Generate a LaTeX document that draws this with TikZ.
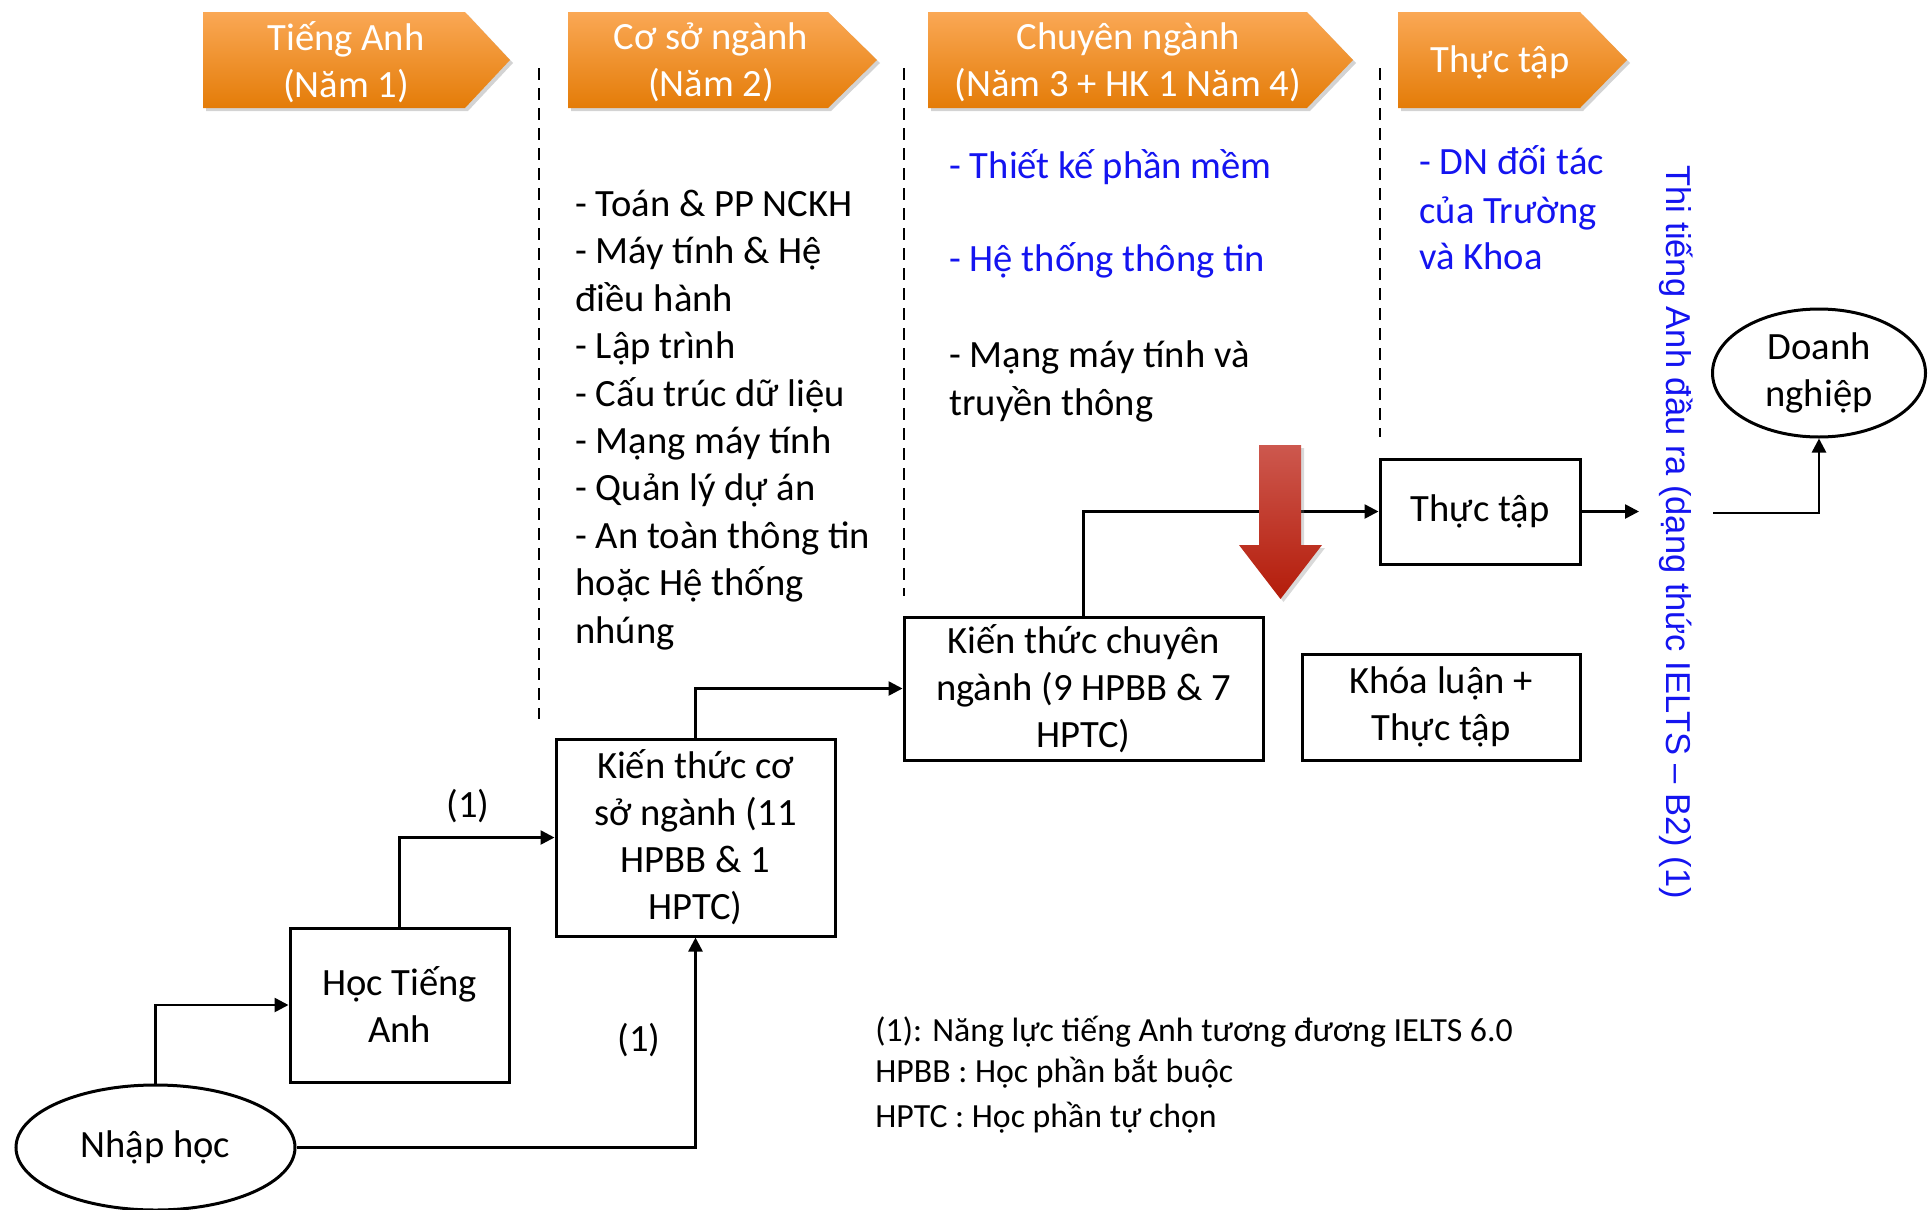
\documentclass[tikz,border=0pt]{standalone}
\usepackage{fontspec}
\setmainfont{Carlito}
\newfontfamily\arialf{Liberation Sans}
\usetikzlibrary{arrows.meta,shadows,shapes.geometric,calc}
\definecolor{blueT}{RGB}{20,20,240}
\definecolor{orT}{RGB}{250,168,85}
\definecolor{orM}{RGB}{247,146,30}
\definecolor{orB}{RGB}{228,124,8}
\definecolor{redT}{RGB}{205,88,78}
\definecolor{redM}{RGB}{200,42,20}
\definecolor{redB}{RGB}{180,28,10}
\tikzset{
  bodyfont/.style={font=\fontsize{19.3}{23.5}\selectfont},
  box/.style={draw, line width=1.5pt, align=center, inner sep=0pt, bodyfont},
  oval/.style={draw, ellipse, line width=1.5pt, align=center, inner sep=0pt, bodyfont},
  conn/.style={line width=1.3pt, -{Triangle[length=7pt,width=7pt]}},
  dashline/.style={line width=1.2pt, dash pattern=on 6pt off 4pt},
  hdr/.style={top color=orT, middle color=orM, bottom color=orB, draw=none,
     drop shadow={opacity=0.35, shadow xshift=1.5pt, shadow yshift=-1.5pt}},
  hdrtxt/.style={white, align=center, inner sep=0pt, bodyfont},
  txt/.style={anchor=base west, inner sep=0pt, bodyfont},
  bluetxt/.style={txt, text=blueT},
  lbl/.style={inner sep=0pt, bodyfont},
  legend/.style={anchor=base west, inner sep=0pt, font=\fontsize{16.9}{20}\selectfont},
}
\begin{document}
\begin{tikzpicture}[x=0.5pt,y=-0.5pt]
\useasboundingbox (0,0) rectangle (1928,1210);

% header arrows
\path[hdr] (203,12) -- (465,12) -- (510,60) -- (465,108) -- (203,108) -- cycle;
\path[hdr] (568,12) -- (828,12) -- (877,60) -- (828,108) -- (568,108) -- cycle;
\path[hdr] (928,12) -- (1307,12) -- (1353,60) -- (1307,108) -- (928,108) -- cycle;
\path[hdr] (1398,12) -- (1580,12) -- (1627,60) -- (1580,108) -- (1398,108) -- cycle;
\node[hdrtxt] (h1) at (346,62.5) {Tiếng Anh\\(Năm 1)};
\node[hdrtxt] (h2) at (711,62.5) {Cơ sở ngành\\(Năm 2)};
\node[hdrtxt] (h3) at (1128,62.5) {Chuyên ngành\\(Năm 3 + HK 1 Năm 4)};
\node[hdrtxt] (h4) at (1500,62) {Thực tập};

% dashed separators
\draw[dashline] (539,68) -- (539,719);
\draw[dashline] (904,68) -- (904,596);
\draw[dashline] (1380,68) -- (1380,437);

% column 2 text
\foreach \t [count=\i from 0] in {- Toán \& PP NCKH, - Máy tính \& Hệ, điều hành, - Lập trình, - Cấu trúc dữ liệu, - Mạng máy tính, - Quản lý dự án, - An toàn thông tin, hoặc Hệ thống, nhúng}
  \node[txt] (cs\i) at (575,216.5+47.4*\i) {\t};

% column 3 text
\node[bluetxt] (cn1) at (949,178) {- Thiết kế phần mềm};
\node[bluetxt] (cn2) at (949,271) {- Hệ thống thông tin};
\node[txt] (cn3) at (949,367) {- Mạng máy tính và};
\node[txt] (cn4) at (949,415) {truyền thông};

% column 4 text
\node[bluetxt] (tt1) at (1419,174.5) {- DN đối tác};
\node[bluetxt] (tt2) at (1419,223.5) {của Trường};
\node[bluetxt] (tt3) at (1419,269.5) {và Khoa};

% vertical text
\node[text=blueT, rotate=-90, inner sep=0pt, font=\arialf\fontsize{17.25}{20}\selectfont] (vt) at (1676,532)
  {Thi tiếng Anh đầu ra (dạng thức IELTS – B2) (1)};

% boxes
\node[oval, minimum width=139.5pt, minimum height=62.5pt] (nh) at (155.5,1147.5) {Nhập học};
\node[box, minimum width=109.5pt, minimum height=77pt] (hta) at (399.5,1005) {Học Tiếng\\Anh};
\node[box, minimum width=139.5pt, minimum height=98.5pt] (ktcs) at (695.5,837.5) {Kiến thức cơ\\sở ngành (11\\HPBB \& 1\\HPTC)};
\node[box, minimum width=179.5pt, minimum height=71.5pt] (ktcn) at (1083.5,688.5) {Kiến thức chuyên\\ngành (9 HPBB \& 7\\HPTC)};
\node[box, minimum width=139pt, minimum height=53pt] (kl) at (1441,707) {Khóa luận +\\Thực tập};
\node[box, minimum width=100pt, minimum height=52.5pt] (tt) at (1480,511.5) {Thực tập};
\node[oval, minimum width=106.5pt, minimum height=64pt] (dn) at (1819,373) {Doanh\\nghiệp};

\coordinate (ttend) at (1639,511.5);
\coordinate (dnstart) at (1713,513);

% connectors
\draw[conn] (nh.north) |- (hta.west);
\draw[conn] (hta.north) |- (ktcs.west);
\draw[conn] (nh.east) -| (ktcs.south);
\draw[conn] (ktcs.north) |- (ktcn.west);
\draw[conn] (ktcn.north) |- (tt.west);
\draw[conn] (tt.east) -- (ttend);
\draw[conn] (dnstart) -| (dn.south);

\node[lbl] (l1) at (468,806) {(1)};
\node[lbl] (l2) at (639,1040) {(1)};

% red arrow
\path[top color=redT, middle color=redM, bottom color=redB,
      drop shadow={opacity=0.3, shadow xshift=1.5pt, shadow yshift=-1.5pt}]
  (1259,445) -- (1301,445) -- (1301,545) -- (1322,545) -- (1280.5,599) -- (1239,545) -- (1259,545) -- cycle;

% legend
\node[legend] (lg1) at (875,1041) {(1): Năng lực tiếng Anh tương đương IELTS 6.0};
\node[legend] (lg2) at (875,1082) {HPBB : Học phần bắt buộc};
\node[legend] (lg3) at (875,1127) {HPTC : Học phần tự chọn};
\end{tikzpicture}
\end{document}
